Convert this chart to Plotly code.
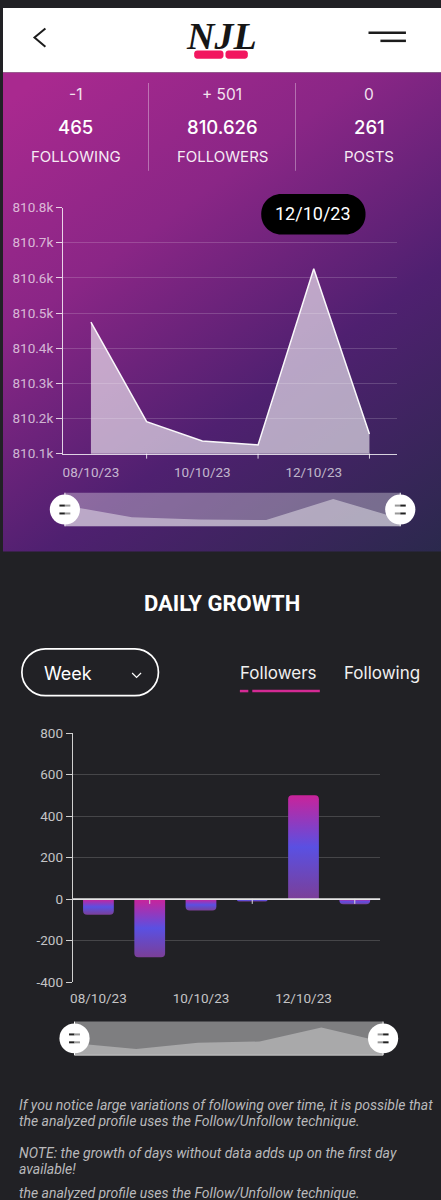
import base64
import plotly.graph_objects as go

W, H = 441, 1200

# ---------- data ----------
dates = ["08/10/23", "09/10/23", "10/10/23", "11/10/23", "12/10/23", "13/10/23"]
followers = [810474, 810191, 810136, 810125, 810626, 810156]
growth = [-75, -280, -55, -11, 501, -25]
follower_ticks = [810100, 810200, 810300, 810400, 810500, 810600, 810700, 810800]
follower_ticktext = ["810.1k", "810.2k", "810.3k", "810.4k", "810.5k", "810.6k", "810.7k", "810.8k"]
growth_ticks = [-400, -200, 0, 200, 400, 600, 800]
growth_ticktext = ["-400", "-200", "0", "200", "400", "600", "800"]
label_dates = [dates[0], dates[2], dates[4]]
mark_dates = [dates[1], dates[3], dates[5]]
stat_deltas = ["-1", "+ 501", "0"]
stat_values = ["465", "810.626", "261"]
stat_names = ["FOLLOWING", "FOLLOWERS", "POSTS"]
note_lines = [
    "If you notice large variations of following over time, it is possible that",
    "the analyzed profile uses the Follow/Unfollow technique.",
    "NOTE: the growth of days without data adds up on the first day",
    "available!",
    "the analyzed profile uses the Follow/Unfollow technique.",
]

def px(x):
    return x / W

def py(y):
    return 1 - y / H

def rrect(x0, y0, x1, y1, r):
    k = r * 0.45
    pts = [
        f"M{px(x0 + r)},{py(y0)}", f"L{px(x1 - r)},{py(y0)}",
        f"C{px(x1 - k)},{py(y0)} {px(x1)},{py(y0 + k)} {px(x1)},{py(y0 + r)}",
        f"L{px(x1)},{py(y1 - r)}",
        f"C{px(x1)},{py(y1 - k)} {px(x1 - k)},{py(y1)} {px(x1 - r)},{py(y1)}",
        f"L{px(x0 + r)},{py(y1)}",
        f"C{px(x0 + k)},{py(y1)} {px(x0)},{py(y1 - k)} {px(x0)},{py(y1 - r)}",
        f"L{px(x0)},{py(y0 + r)}",
        f"C{px(x0)},{py(y0 + k)} {px(x0 + k)},{py(y0)} {px(x0 + r)},{py(y0)}", "Z",
    ]
    return " ".join(pts)

shapes = []
annotations = []

def line(x0, y0, x1, y1, color, width=1.0):
    shapes.append(dict(type="line", xref="paper", yref="paper", x0=px(x0), x1=px(x1),
                       y0=py(y0), y1=py(y1), line=dict(color=color, width=width), layer="above"))

def text(x, y, s, size, color="white", family="Inter", weight=400, anchor="center", style="normal"):
    annotations.append(dict(xref="paper", yref="paper", x=px(x), y=py(y), text=s, showarrow=False,
                            xanchor=anchor, yanchor="middle",
                            font=dict(family=family, size=size, color=color, weight=weight, style=style)))

# background gradient for the purple panel
svg = (
    '<svg xmlns="http://www.w3.org/2000/svg" width="441" height="486" viewBox="0 0 441 486" preserveAspectRatio="none">'
    '<defs><linearGradient id="a" gradientUnits="userSpaceOnUse" x1="60" y1="-10" x2="430" y2="500">'
    '<stop offset="0" stop-color="#a9298f"/><stop offset="0.3" stop-color="#8a2686"/>'
    '<stop offset="0.62" stop-color="#4f2070"/><stop offset="1" stop-color="#2a294c"/>'
    '</linearGradient></defs><rect width="441" height="486" fill="url(#a)"/></svg>'
)
bg_uri = "data:image/svg+xml;base64," + base64.b64encode(svg.encode()).decode()

# header
shapes.append(dict(type="rect", xref="paper", yref="paper", x0=0, x1=1, y0=py(65), y1=1,
                   fillcolor="white", line=dict(width=0), layer="below"))
shapes.append(dict(type="path", xref="paper", yref="paper",
                   path=f"M{px(42.7)},{py(20.7)} L{px(31.7)},{py(30)} L{px(42.7)},{py(39.3)}",
                   line=dict(color="#1c1c1c", width=2), layer="above"))
line(368, 25, 405.7, 25, "#1c1c1c", 2.5)
line(380, 33.3, 405.7, 33.3, "#1c1c1c", 2.5)
shapes.append(dict(type="path", xref="paper", yref="paper",
                   path=rrect(192.5, 43, 222, 51.5, 3), fillcolor="#f2165f", line=dict(width=0), layer="above"))
shapes.append(dict(type="path", xref="paper", yref="paper",
                   path=rrect(224, 43, 246.5, 51.5, 3), fillcolor="#f2165f", line=dict(width=0), layer="above"))
text(220, 28, "NJL", 38, "#161616", "Liberation Sans Narrow", 700, style="italic")

# stats
for cx, d, v, n in zip([73, 220.5, 369], stat_deltas, stat_values, stat_names):
    text(cx, 88, d, 15.5, "#f3e3ef")
    text(cx, 120.5, v, 18.5, "white", weight=500)
    text(cx, 150, n, 15, "#f6ebf4")
line(146.5, 76, 146.5, 165, "rgba(255,255,255,0.35)", 1)
line(294.5, 76, 294.5, 165, "rgba(255,255,255,0.35)", 1)

# tooltip
shapes.append(dict(type="path", xref="paper", yref="paper", path=rrect(260, 188.5, 365, 229.5, 20),
                   fillcolor="black", line=dict(width=0), layer="above"))
text(312.5, 208.5, dates[4], 18, "white", "Roboto")

# top-chart tick marks
TOP = dict(l=60.5, r=397, t=202.3, b=451.7)
BOT = dict(l=70.3, r=380, t=735, b=987.3)
for d in mark_dates:
    shapes.append(dict(type="line", xref="x", yref="paper", x0=d, x1=d, y0=py(TOP["b"]), y1=py(TOP["b"] + 5),
                       line=dict(color="rgba(255,255,255,0.8)", width=1), layer="above"))
    shapes.append(dict(type="line", xref="x2", yref="paper", x0=d, x1=d, y0=py(902.9), y1=py(908),
                       line=dict(color="#d8d8d8", width=1), layer="above"))
# zero line of the growth chart
shapes.append(dict(type="line", xref="x2", yref="y2", x0=-0.5, x1=5.5, y0=0, y1=0,
                   line=dict(color="#e6e6e6", width=1.6), layer="above"))

# slider backgrounds and handles
SL1 = dict(l=62.3, r=400, t=491.3, b=525.3)
SL2 = dict(l=72, r=382.7, t=1027.3, b=1061.3)
shapes.append(dict(type="rect", xref="paper", yref="paper", x0=px(SL1["l"]), x1=px(SL1["r"]), y0=py(SL1["b"]), y1=py(SL1["t"]),
                   fillcolor="rgba(255,255,255,0.33)", line=dict(width=0), layer="below"))
shapes.append(dict(type="rect", xref="paper", yref="paper", x0=px(SL2["l"]), x1=px(SL2["r"]), y0=py(SL2["b"]), y1=py(SL2["t"]),
                   fillcolor="#7e7e80", line=dict(width=0), layer="below"))
line(SL2["l"], SL2["b"], SL2["r"], SL2["b"], "#c8c8c8", 1)

def handle(cx, cy, t, b, left_dark):
    line(cx, t, cx, b, "white", 1)
    shapes.append(dict(type="circle", xref="paper", yref="paper", x0=px(cx - 15.2), x1=px(cx + 15.2),
                       y0=py(cy + 15.2), y1=py(cy - 15.2), fillcolor="white", line=dict(width=0), layer="above"))
    for yy in (cy - 4, cy + 4):
        line(cx - 5.5, yy, cx, yy, "#222" if left_dark else "#999", 2)
        line(cx, yy, cx + 5.5, yy, "#999" if left_dark else "#222", 2)

handle(SL1["l"], 508.3, SL1["t"], SL1["b"], True)
handle(SL1["r"], 508.3, SL1["t"], SL1["b"], False)
handle(SL2["l"], 1044.3, SL2["t"], SL2["b"], True)
handle(SL2["r"], 1044.3, SL2["t"], SL2["b"], False)

# daily growth header
text(220.5, 604, "DAILY GROWTH", 22, "white", "Roboto", 700)
shapes.append(dict(type="path", xref="paper", yref="paper", path=rrect(19, 649.5, 156.5, 697, 23.7),
                   line=dict(color="white", width=1.7), layer="above"))
text(39, 674, "Week", 18, "white", anchor="left")
shapes.append(dict(type="path", xref="paper", yref="paper",
                   path=f"M{px(130)},{py(674)} L{px(134.5)},{py(678.5)} L{px(139)},{py(674)}",
                   line=dict(color="white", width=1.2), layer="above"))
text(277.5, 674, "Followers", 17, "#f0f0f0")
text(381.5, 674, "Following", 17, "#f0f0f0")
line(238.5, 692.3, 247, 692.3, "#d42a94", 2.5)
line(251, 692.3, 319, 692.3, "#d42a94", 2.5)

# notes
for y, s in zip([1111.7, 1128, 1160.7, 1177, 1201.5], note_lines):
    text(14, y, s, 14, "#b9b9bb", "Roboto", anchor="left", style="italic")

fig = go.Figure()
axis_font = dict(family="Roboto", size=13.5)

fig.add_trace(go.Scatter(x=dates, y=followers, mode="lines", fill="tozeroy",
                         line=dict(color="rgba(255,255,255,0.95)", width=1.5),
                         fillcolor="rgba(255,255,255,0.6)", xaxis="x", yaxis="y", hoverinfo="skip"))
fig.add_trace(go.Bar(x=dates, y=growth, width=0.6, marker=dict(color="#5a50e0", line=dict(width=0)),
                     xaxis="x2", yaxis="y2", hoverinfo="skip"))
fig.add_trace(go.Scatter(x=dates, y=followers, mode="lines", fill="tozeroy", line=dict(width=0),
                         fillcolor="rgba(255,255,255,0.42)", xaxis="x3", yaxis="y3", hoverinfo="skip"))
slider_floor = [-508] * len(dates)
fig.add_trace(go.Scatter(x=dates, y=slider_floor, mode="lines", line=dict(width=0),
                         xaxis="x4", yaxis="y4", hoverinfo="skip"))
fig.add_trace(go.Scatter(x=dates, y=growth, mode="lines", fill="tonexty", line=dict(width=0),
                         fillcolor="#a9a9aa", xaxis="x4", yaxis="y4", hoverinfo="skip"))

tc1 = "rgba(255,255,255,0.68)"
tc2 = "#c4c4c6"
fig.update_layout(
    width=W, height=H, margin=dict(l=0, r=0, t=0, b=0, pad=0), autosize=False,
    paper_bgcolor="#212125", plot_bgcolor="rgba(0,0,0,0)", showlegend=False, hovermode=False,
    barcornerradius=4,
    images=[dict(source=bg_uri, xref="paper", yref="paper", x=0, y=py(65), sizex=1, sizey=486 / H,
                 xanchor="left", yanchor="top", sizing="stretch", layer="below")],
    shapes=shapes, annotations=annotations,
    xaxis=dict(domain=[px(TOP["l"]), px(TOP["r"])], type="category", categoryorder="array", categoryarray=dates,
               range=[-0.5, 5.5], anchor="y", tickmode="array", tickvals=label_dates, ticktext=label_dates,
               ticks="", ticklabelstandoff=6, tickfont=dict(color=tc1, **axis_font), showline=True,
               linecolor="rgba(255,255,255,0.8)", linewidth=1.2, showgrid=False, fixedrange=True),
    yaxis=dict(domain=[py(TOP["b"]), py(TOP["t"])], range=[810100, 810800], anchor="x", tickmode="array",
               tickvals=follower_ticks, ticktext=follower_ticktext, ticks="outside", ticklen=6,
               tickcolor="rgba(255,255,255,0.8)", tickfont=dict(color=tc1, **axis_font), showline=True,
               linecolor="rgba(255,255,255,0.8)", linewidth=1.2, showgrid=True,
               gridcolor="rgba(255,255,255,0.17)", gridwidth=1, zeroline=False, fixedrange=True),
    xaxis2=dict(domain=[px(BOT["l"]), px(BOT["r"])], type="category", categoryorder="array", categoryarray=dates,
                range=[-0.5, 5.5], anchor="y2", tickmode="array", tickvals=label_dates, ticktext=label_dates,
                ticks="", ticklabelstandoff=6, tickfont=dict(color=tc2, **axis_font), showline=False,
                showgrid=False, zeroline=False, fixedrange=True),
    yaxis2=dict(domain=[py(BOT["b"]), py(BOT["t"])], range=[-400, 800], anchor="x2", tickmode="array",
                tickvals=growth_ticks, ticktext=growth_ticktext, ticks="outside", ticklen=6, tickcolor="#d0d0d0",
                tickfont=dict(color=tc2, **axis_font), showline=True, linecolor="#d0d0d0", linewidth=1.2,
                showgrid=True, gridcolor="rgba(255,255,255,0.17)", gridwidth=1, zeroline=False, fixedrange=True),
    xaxis3=dict(domain=[px(SL1["l"]), px(SL1["r"])], type="category", categoryorder="array", categoryarray=dates,
                range=[0, 5], anchor="y3", visible=False, fixedrange=True),
    yaxis3=dict(domain=[py(SL1["b"]), py(SL1["t"])], range=[809976, 810775], anchor="x3", visible=False, fixedrange=True),
    xaxis4=dict(domain=[px(SL2["l"]), px(SL2["r"])], type="category", categoryorder="array", categoryarray=dates,
                range=[0, 5], anchor="y4", visible=False, fixedrange=True),
    yaxis4=dict(domain=[py(SL2["b"]), py(SL2["t"])], range=[-508, 717], anchor="x4", visible=False, fixedrange=True),
)

post = """
document.documentElement.style.overflow='hidden';
document.body.style.margin='0';
var svg=document.querySelector('.main-svg');
var NS='http://www.w3.org/2000/svg';
var defs=svg.querySelector('defs')||svg.insertBefore(document.createElementNS(NS,'defs'),svg.firstChild);
var g=document.createElementNS(NS,'linearGradient');
g.setAttribute('id','barGrad');g.setAttribute('x1','0');g.setAttribute('y1','0');g.setAttribute('x2','0');g.setAttribute('y2','1');
[['0','#c9239a'],['0.5','#5a50e2'],['1','#7b3f98']].forEach(function(s){
  var st=document.createElementNS(NS,'stop');st.setAttribute('offset',s[0]);st.setAttribute('stop-color',s[1]);g.appendChild(st);
});
defs.appendChild(g);
document.querySelectorAll('.bars .point path').forEach(function(p){p.style.setProperty('fill','url(#barGrad)');});
"""
fig.write_html("out.html", config=dict(displayModeBar=False), post_script=post)
